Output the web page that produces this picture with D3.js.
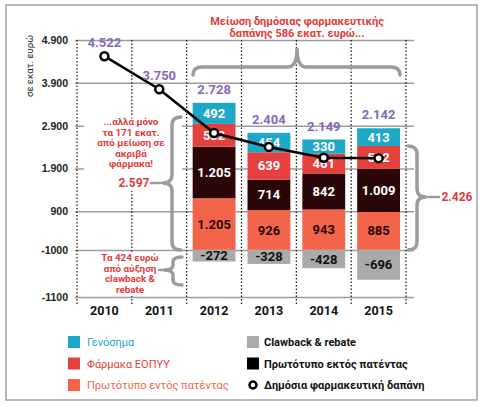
<!DOCTYPE html>
<html>
<head>
<meta charset="utf-8">
<script src="https://cdn.jsdelivr.net/npm/d3@7"></script>
<style>
  body { margin: 0; background: #fff; }
  svg { font-family: Roboto, "Noto Sans", sans-serif; }
</style>
</head>
<body>
<div id="chart"></div>
<script>
var years = [2010, 2011, 2012, 2013, 2014, 2015];
var spending = [4522, 3750, 2728, 2404, 2149, 2142];   // Δημόσια φαρμακευτική δαπάνη
var barYears = [2012, 2013, 2014, 2015];
var onPatent = [1205, 926, 943, 885];     // Πρωτότυπο εντός πατέντας
var offPatent = [1205, 714, 842, 1009];   // Πρωτότυπο εκτός πατέντας
var eopyy = [532, 639, 461, 532];         // Φάρμακα ΕΟΠΥΥ
var generics = [492, 454, 330, 413];      // Γενόσημα
var clawback = [-272, -328, -428, -696];  // Clawback & rebate
var tickValues = [4900, 3900, 2900, 1900, 900, 0, -1100];
var tickLabels = ["4.900", "3.900", "2.900", "1.900", "900", "-1000", "-1100"];

var width = 480, height = 405;
var red = "#e23b3b", purple = "#8668bb", gray = "#9c9c9c";
var colors = {
  onPatent: "#f3654a",
  offPatent: "#2b0606",
  eopyy: "#e5403e",
  generics: "#1ea8c8",
  clawback: "#aaaaaa"
};

var fmt = function(v) {
  var s = String(Math.abs(v));
  if (s.length > 3) s = s.slice(0, s.length - 3) + "." + s.slice(s.length - 3);
  return (v < 0 ? "-" : "") + s;
};

var svg = d3.select("#chart").append("svg")
  .attr("width", width)
  .attr("height", height);

// frame
svg.append("rect")
  .attr("x", 6).attr("y", 5)
  .attr("width", 471).attr("height", 395)
  .attr("fill", "none")
  .attr("stroke", "#a0a0a0")
  .attr("stroke-width", 1.5);

var x = d3.scaleBand().domain(years).range([77, 406]);
var y = d3.scaleLinear().domain([-1100, 4900]).range([297, 40]);

// horizontal grid + tick labels
var yAxis = d3.axisLeft(y)
  .tickValues(tickValues)
  .tickFormat(function(d, i) { return tickLabels[i]; })
  .tickSize(-339)
  .tickPadding(7);

var gy = svg.append("g")
  .attr("transform", "translate(75,0)")
  .call(yAxis);
gy.select(".domain").remove();
gy.selectAll(".tick line").attr("stroke", gray).attr("stroke-width", 1.5);
gy.selectAll(".tick text")
  .attr("fill", "#222")
  .attr("font-size", "10.5px")
  .attr("font-weight", "bold");

// vertical dotted separators
var seps = years.map(function(d) { return x(d); }).concat([x.range()[1]]);
svg.selectAll("line.sep")
  .data(seps)
  .enter()
  .append("line")
  .attr("class", "sep")
  .attr("x1", function(d) { return d; })
  .attr("x2", function(d) { return d; })
  .attr("y1", y(4900))
  .attr("y2", 306)
  .attr("stroke", "#111")
  .attr("stroke-width", 1.2)
  .attr("stroke-dasharray", "1.5,2");

// white patches behind annotations (they hide the grid there)
svg.append("rect").attr("x", 84).attr("y", 115).attr("width", 98).attr("height", 76).attr("fill", "#fff");
svg.append("rect").attr("x", 100).attr("y", 252).attr("width", 60).attr("height", 44).attr("fill", "#fff");

// y title
svg.append("text")
  .attr("transform", "translate(33,66) rotate(-90)")
  .attr("text-anchor", "middle")
  .attr("font-size", "9.5px")
  .attr("fill", "#222")
  .text("σε εκατ. ευρώ");

// stacked bars
var keys = ["onPatent", "offPatent", "eopyy", "generics"];
var series = { onPatent: onPatent, offPatent: offPatent, eopyy: eopyy, generics: generics };
var labelColor = { onPatent: "#2b0606", offPatent: "#fff", eopyy: "#fff", generics: "#fff" };
var barPad = 6;
var bw = x.bandwidth() - 2 * barPad;

var segs = [];
barYears.forEach(function(yr, i) {
  var base = 0;
  keys.forEach(function(k) {
    var v = series[k][i];
    segs.push({ year: yr, key: k, y0: base, y1: base + v, v: v });
    base += v;
  });
  segs.push({ year: yr, key: "clawback", y0: clawback[i], y1: 0, v: clawback[i] });
});

svg.selectAll("rect.seg")
  .data(segs)
  .enter()
  .append("rect")
  .attr("class", "seg")
  .attr("x", function(d) { return x(d.year) + barPad; })
  .attr("y", function(d) { return y(d.y1); })
  .attr("width", bw)
  .attr("height", function(d) { return y(d.y0) - y(d.y1); })
  .attr("fill", function(d) { return colors[d.key]; });

svg.selectAll("text.seg")
  .data(segs)
  .enter()
  .append("text")
  .attr("class", "seg")
  .attr("x", function(d) { return x(d.year) + x.bandwidth() / 2; })
  .attr("y", function(d) { return (y(d.y0) + y(d.y1)) / 2 + 4.5; })
  .attr("text-anchor", "middle")
  .attr("font-size", "13px")
  .attr("font-weight", "bold")
  .attr("fill", function(d) { return d.key === "clawback" ? "#111" : labelColor[d.key]; })
  .text(function(d) { return fmt(d.v); });

// spending line
var cx = function(i) { return x(years[i]) + x.bandwidth() / 2; };
var line = d3.line()
  .x(function(d, i) { return cx(i); })
  .y(function(d) { return y(d); });

svg.append("path")
  .datum(spending)
  .attr("d", line)
  .attr("fill", "none")
  .attr("stroke", "#000")
  .attr("stroke-width", 2.5);

svg.selectAll("circle.pt")
  .data(spending)
  .enter()
  .append("circle")
  .attr("class", "pt")
  .attr("cx", function(d, i) { return cx(i); })
  .attr("cy", function(d) { return y(d); })
  .attr("r", 4)
  .attr("fill", "#fff")
  .attr("stroke", "#000")
  .attr("stroke-width", 2.5);

// spending value labels (above the bar top or the point)
svg.selectAll("text.val")
  .data(spending)
  .enter()
  .append("text")
  .attr("class", "val")
  .attr("x", function(d, i) { return cx(i); })
  .attr("y", function(d, i) {
    var j = barYears.indexOf(years[i]);
    if (j < 0) return y(d) - 9;
    var top = onPatent[j] + offPatent[j] + eopyy[j] + generics[j];
    return y(top) - 9;
  })
  .attr("text-anchor", "middle")
  .attr("font-size", "13px")
  .attr("font-weight", "bold")
  .attr("fill", purple)
  .text(function(d) { return fmt(d); });

// braces
function braceV(xs, y1, y2, ym, e, t, r) {
  return "M" + (xs + e) + "," + y1 +
    " Q" + xs + "," + y1 + " " + xs + "," + (y1 + r) +
    " L" + xs + "," + (ym - r) +
    " Q" + xs + "," + ym + " " + (xs + t) + "," + ym +
    " Q" + xs + "," + ym + " " + xs + "," + (ym + r) +
    " L" + xs + "," + (y2 - r) +
    " Q" + xs + "," + y2 + " " + (xs + e) + "," + y2;
}
function braceH(ys, x1, x2, xm, e, t, r) {
  return "M" + x1 + "," + (ys + e) +
    " Q" + x1 + "," + ys + " " + (x1 + r) + "," + ys +
    " L" + (xm - r) + "," + ys +
    " Q" + xm + "," + ys + " " + xm + "," + (ys + t) +
    " Q" + xm + "," + ys + " " + (xm + r) + "," + ys +
    " L" + (x2 - r) + "," + ys +
    " Q" + x2 + "," + ys + " " + x2 + "," + (ys + e);
}
var braces = [
  braceH(67, 193, 400, 297, 8, -19, 9),
  braceV(172, 117, 250, 183, 9, -9, 8),
  braceV(173, 257, 285, 270, 9, -9, 5),
  braceV(417, y(2426), y(0), 197, -9, 9, 8)
];
svg.selectAll("path.brace")
  .data(braces)
  .enter()
  .append("path")
  .attr("class", "brace")
  .attr("d", function(d) { return d; })
  .attr("fill", "none")
  .attr("stroke", gray)
  .attr("stroke-width", 3.5)
  .attr("stroke-linecap", "round");

var pointers = [[150, 183, 164], [158, 270, 165], [425, 197, 440]];
svg.selectAll("line.ptr")
  .data(pointers)
  .enter()
  .append("line")
  .attr("x1", function(d) { return d[0]; })
  .attr("x2", function(d) { return d[2]; })
  .attr("y1", function(d) { return d[1]; })
  .attr("y2", function(d) { return d[1]; })
  .attr("stroke", gray)
  .attr("stroke-width", 2.5);

// red annotation texts
function block(lines, cxp, y0, lh, size) {
  var t = svg.append("text")
    .attr("text-anchor", "middle")
    .attr("font-size", size)
    .attr("font-weight", "bold")
    .attr("fill", red);
  lines.forEach(function(s, i) {
    t.append("tspan").attr("x", cxp).attr("y", y0 + i * lh).text(s);
  });
}
block(["Μείωση δημόσιας φαρμακευτικής", "δαπάνης 586 εκατ. ευρώ..."], 297, 25, 11.5, "11px");
block(["...αλλά μόνο", "τα 171 εκατ.", "από μείωση σε", "ακριβά", "φάρμακα!"], 131, 125, 10.6, "9.8px");
block(["Τα 424 ευρώ", "από αύξηση", "clawback &", "rebate"], 130, 261, 10.6, "9.8px");
block(["2.597"], 134, 187, 0, "12px");
block(["2.426"], 457, 201, 0, "12px");

// x labels
svg.selectAll("text.year")
  .data(years)
  .enter()
  .append("text")
  .attr("class", "year")
  .attr("x", function(d) { return x(d) + x.bandwidth() / 2; })
  .attr("y", 315)
  .attr("text-anchor", "middle")
  .attr("font-size", "12.5px")
  .attr("font-weight", "bold")
  .attr("fill", "#111")
  .text(function(d) { return d; });

// legend
var legend = [
  { label: "Γενόσημα", color: colors.generics, text: colors.generics, bold: false, col: 0, row: 0 },
  { label: "Φάρμακα ΕΟΠΥΥ", color: colors.eopyy, text: colors.eopyy, bold: false, col: 0, row: 1 },
  { label: "Πρωτότυπο εντός πατέντας", color: colors.onPatent, text: colors.onPatent, bold: false, col: 0, row: 2 },
  { label: "Clawback & rebate", color: colors.clawback, text: "#111", bold: true, col: 1, row: 0 },
  { label: "Πρωτότυπο εκτός πατέντας", color: "#000", text: "#111", bold: true, col: 1, row: 1 },
  { label: "Δημόσια φαρμακευτική δαπάνη", color: null, text: "#111", bold: true, col: 1, row: 2 }
];
var lg = svg.selectAll("g.lg")
  .data(legend)
  .enter()
  .append("g")
  .attr("transform", function(d) {
    return "translate(" + (d.col ? 247 : 68) + "," + (342 + d.row * 21.5) + ")";
  });
lg.filter(function(d) { return d.color; })
  .append("rect")
  .attr("x", 0).attr("y", -6)
  .attr("width", 12).attr("height", 12)
  .attr("fill", function(d) { return d.color; });
lg.filter(function(d) { return !d.color; })
  .append("circle")
  .attr("cx", 6).attr("cy", 0).attr("r", 3.5)
  .attr("fill", "#fff").attr("stroke", "#000").attr("stroke-width", 2.5);
lg.append("text")
  .attr("x", function(d) { return d.col ? 17 : 19; })
  .attr("y", 4)
  .attr("font-size", "11px")
  .attr("font-weight", function(d) { return d.bold ? "bold" : "normal"; })
  .attr("fill", function(d) { return d.text; })
  .text(function(d) { return d.label; });
</script>
</body>
</html>
